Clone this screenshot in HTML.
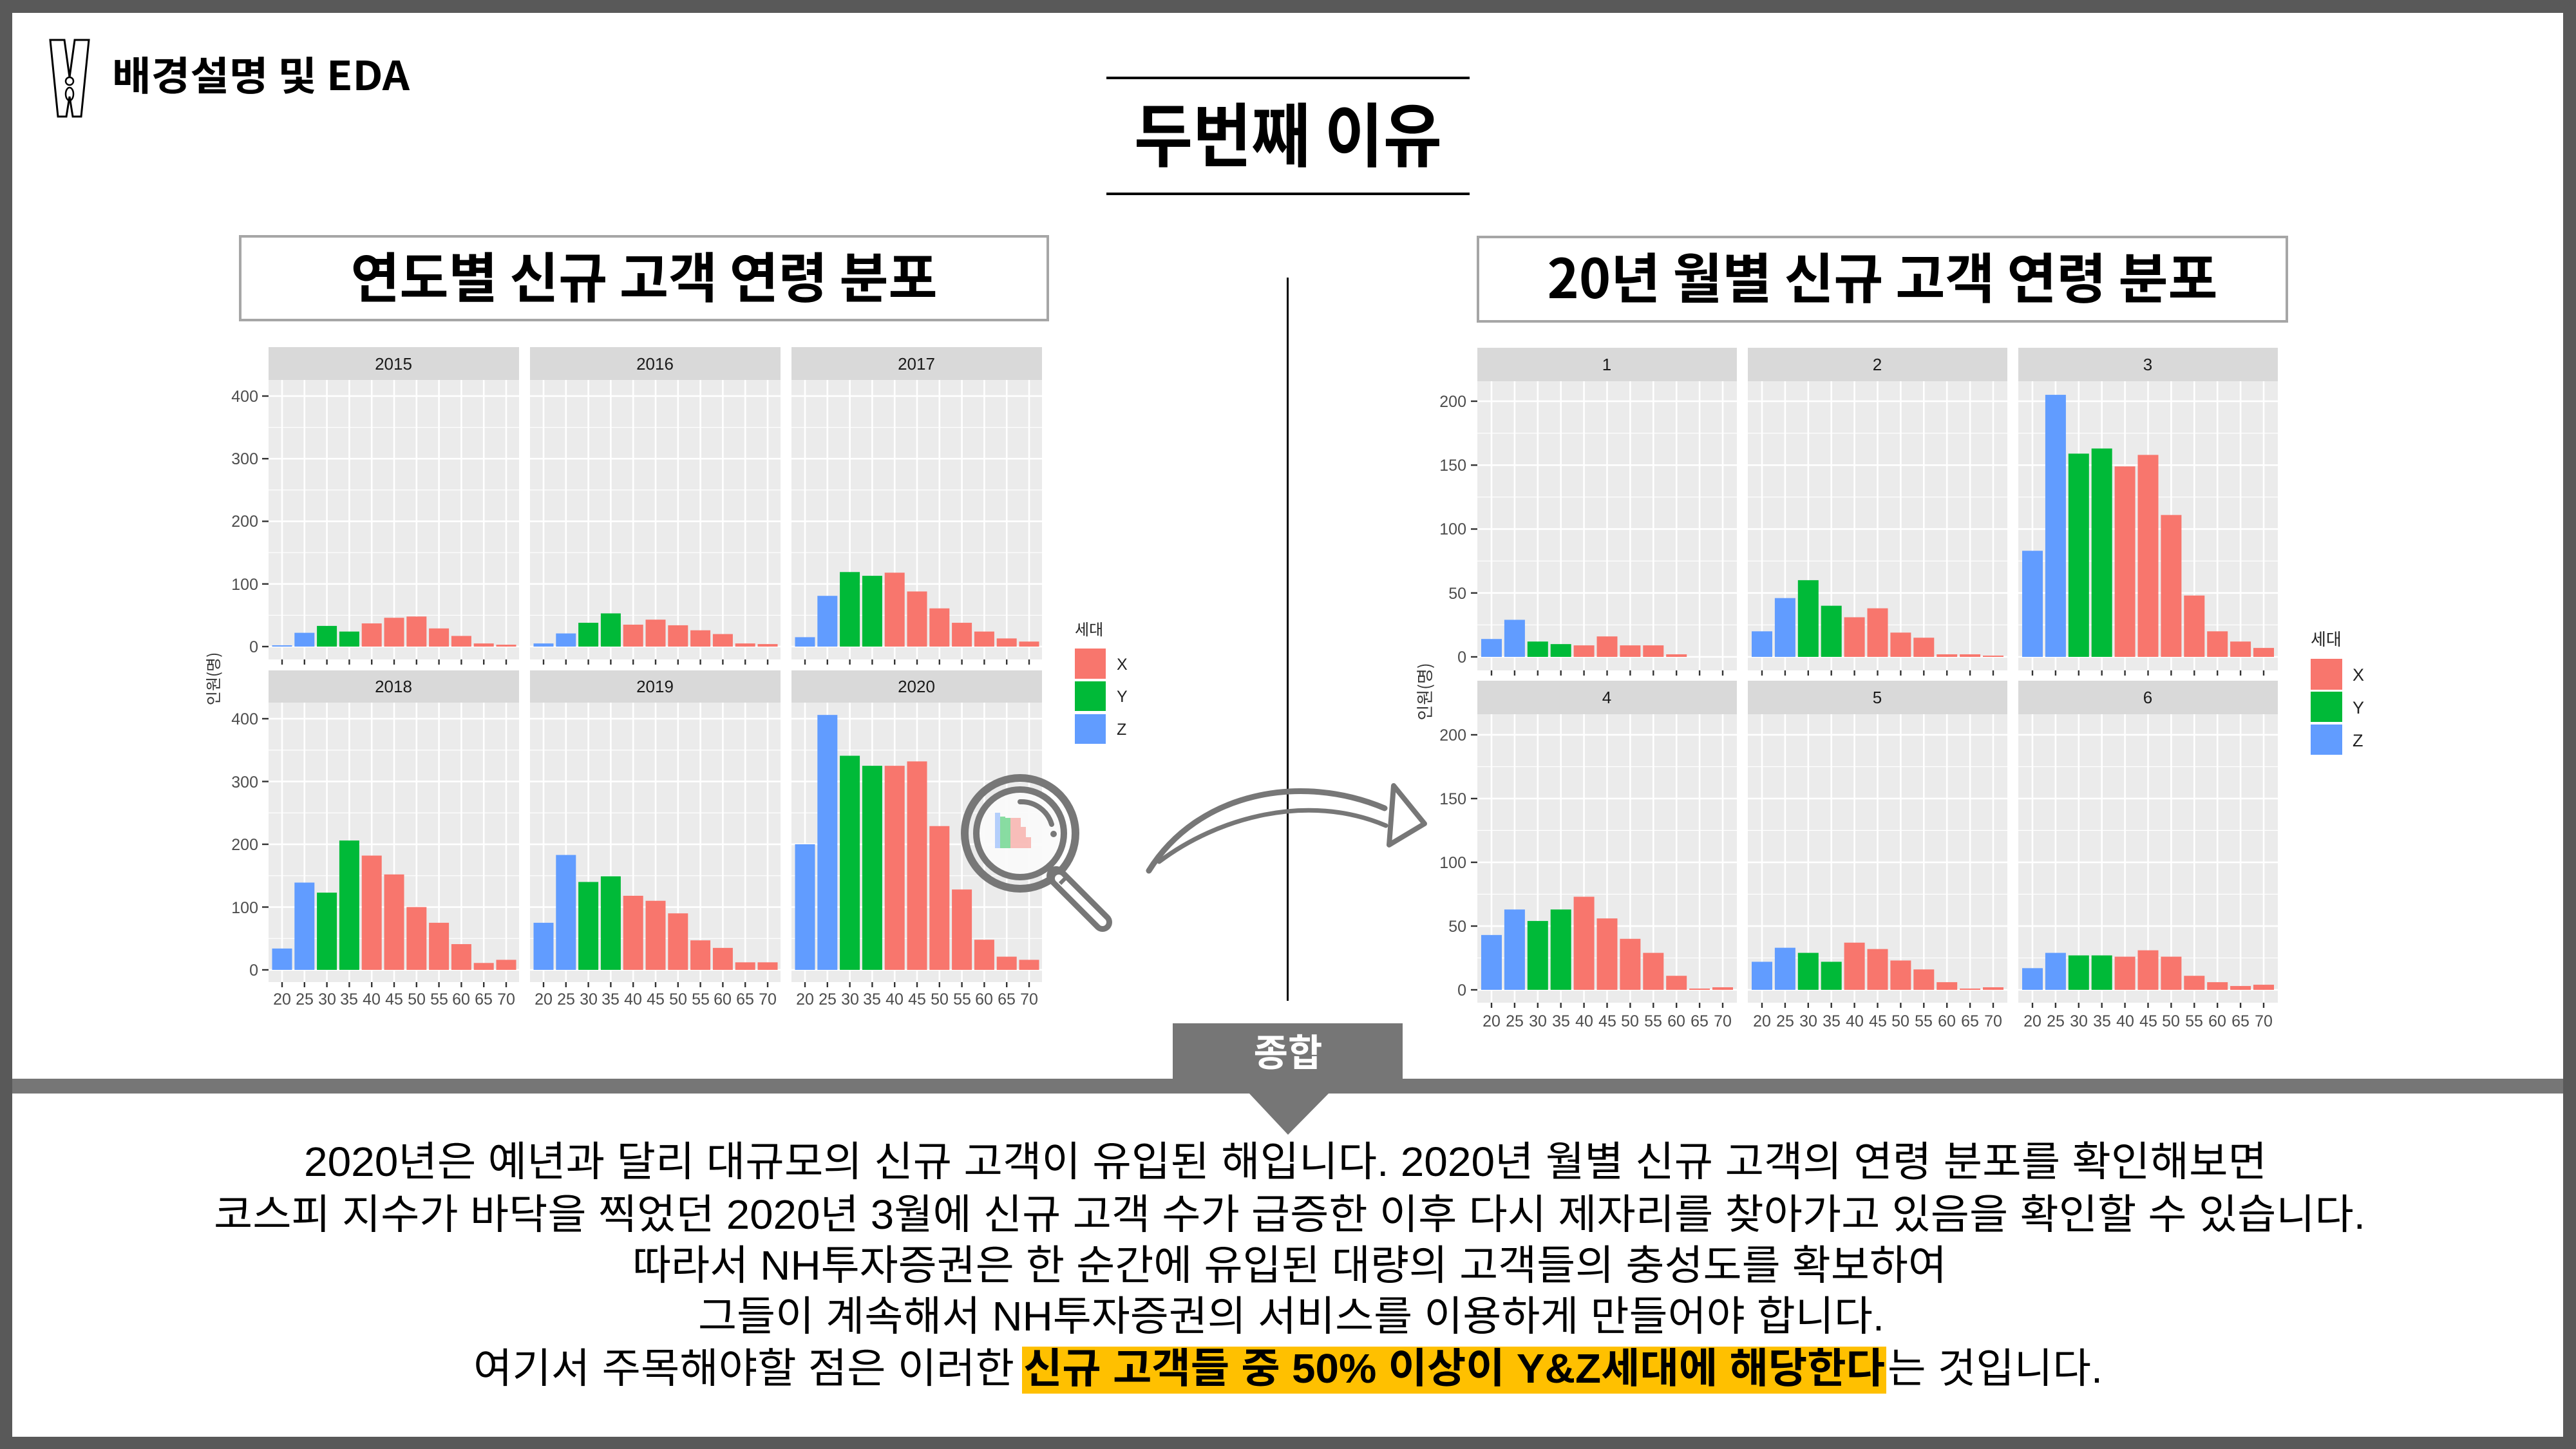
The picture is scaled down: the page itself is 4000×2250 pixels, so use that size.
<!DOCTYPE html>
<html><head><meta charset="utf-8">
<style>
html,body{margin:0;padding:0;background:#fff}
svg{display:block}
text{font-family:"Liberation Sans","Noto Sans CJK KR",sans-serif}
.k{font-family:"Noto Sans CJK KR","NanumGothic",sans-serif}
.tk{font-size:25px;fill:#4d4d4d;font-family:"Liberation Sans",sans-serif}
.st{font-size:26px;fill:#1a1a1a;font-family:"Liberation Sans",sans-serif}
</style></head><body>
<svg id="s" width="4000" height="2250" viewBox="0 0 4000 2250" xmlns="http://www.w3.org/2000/svg">
<rect x="0" y="0" width="4000" height="2250" fill="#595959"/>
<rect x="19" y="20" width="3961" height="2211" fill="#fff"/>
<path d="M78,62 L100,62 L108,120 L116,62 L138,62 L126,181 L113,181 L108,150 L103,181 L90,181 Z" fill="none" stroke="#000" stroke-width="3"/>
<circle cx="108" cy="126" r="6" fill="none" stroke="#000" stroke-width="2.5"/>
<ellipse cx="108" cy="146" rx="6" ry="10" fill="none" stroke="#000" stroke-width="2.5"/>
<text class="k" x="174" y="140" font-size="62" font-weight="bold" textLength="462" lengthAdjust="spacingAndGlyphs">배경설명 및 EDA</text>
<rect x="1718" y="119" width="564" height="4" fill="#000"/>
<rect x="1718" y="299" width="564" height="4" fill="#000"/>
<text class="k" x="2000" y="250" font-size="108" font-weight="bold" text-anchor="middle" textLength="478" lengthAdjust="spacingAndGlyphs">두번째 이유</text>
<rect x="373" y="367" width="1254" height="130" fill="#fff" stroke="#a6a6a6" stroke-width="4"/>
<text class="k" x="1000" y="462" font-size="84" font-weight="bold" text-anchor="middle" textLength="911" lengthAdjust="spacingAndGlyphs">연도별 신규 고객 연령 분포</text>
<rect x="2295" y="368" width="1256" height="131" fill="#fff" stroke="#a6a6a6" stroke-width="4"/>
<text class="k" x="2923" y="463" font-size="84" font-weight="bold" text-anchor="middle" textLength="1041" lengthAdjust="spacingAndGlyphs">20년 월별 신규 고객 연령 분포</text>
<rect x="1998" y="431" width="3" height="1123" fill="#000"/>
<g id="charts"></g>
<text class="st" x="611" y="574" text-anchor="middle">2015</text>
<text class="st" x="1017" y="574" text-anchor="middle">2016</text>
<text class="st" x="1423" y="574" text-anchor="middle">2017</text>
<text class="st" x="611" y="1075" text-anchor="middle">2018</text>
<text class="st" x="1017" y="1075" text-anchor="middle">2019</text>
<text class="st" x="1423" y="1075" text-anchor="middle">2020</text>
<text class="st" x="2495" y="575" text-anchor="middle">1</text>
<text class="st" x="2915" y="575" text-anchor="middle">2</text>
<text class="st" x="3335" y="575" text-anchor="middle">3</text>
<text class="st" x="2495" y="1092" text-anchor="middle">4</text>
<text class="st" x="2915" y="1092" text-anchor="middle">5</text>
<text class="st" x="3335" y="1092" text-anchor="middle">6</text>
<g class="tk" text-anchor="end">
<text x="401" y="1013">0</text><text x="401" y="916">100</text><text x="401" y="818">200</text><text x="401" y="721">300</text><text x="401" y="624">400</text>
<text x="401" y="1515">0</text><text x="401" y="1418">100</text><text x="401" y="1320">200</text><text x="401" y="1223">300</text><text x="401" y="1125">400</text>
</g>
<g class="tk" text-anchor="end">
<text x="2277" y="1029">0</text><text x="2277" y="930">50</text><text x="2277" y="830">100</text><text x="2277" y="731">150</text><text x="2277" y="632">200</text>
<text x="2277" y="1546">0</text><text x="2277" y="1447">50</text><text x="2277" y="1348">100</text><text x="2277" y="1249">150</text><text x="2277" y="1150">200</text>
</g>
<g class="tk" text-anchor="middle">
<text y="1560"><tspan x="438">20</tspan><tspan x="473">25</tspan><tspan x="508">30</tspan><tspan x="542">35</tspan><tspan x="577">40</tspan><tspan x="612">45</tspan><tspan x="647">50</tspan><tspan x="682">55</tspan><tspan x="716">60</tspan><tspan x="751">65</tspan><tspan x="786">70</tspan></text>
<text y="1560"><tspan x="844">20</tspan><tspan x="879">25</tspan><tspan x="914">30</tspan><tspan x="948">35</tspan><tspan x="983">40</tspan><tspan x="1018">45</tspan><tspan x="1053">50</tspan><tspan x="1088">55</tspan><tspan x="1122">60</tspan><tspan x="1157">65</tspan><tspan x="1192">70</tspan></text>
<text y="1560"><tspan x="1250">20</tspan><tspan x="1285">25</tspan><tspan x="1320">30</tspan><tspan x="1354">35</tspan><tspan x="1389">40</tspan><tspan x="1424">45</tspan><tspan x="1459">50</tspan><tspan x="1494">55</tspan><tspan x="1528">60</tspan><tspan x="1563">65</tspan><tspan x="1598">70</tspan></text>
</g>
<g class="tk" text-anchor="middle">
<text y="1594"><tspan x="2316">20</tspan><tspan x="2352">25</tspan><tspan x="2388">30</tspan><tspan x="2424">35</tspan><tspan x="2460">40</tspan><tspan x="2496">45</tspan><tspan x="2531">50</tspan><tspan x="2567">55</tspan><tspan x="2603">60</tspan><tspan x="2639">65</tspan><tspan x="2675">70</tspan></text>
<text y="1594"><tspan x="2736">20</tspan><tspan x="2772">25</tspan><tspan x="2808">30</tspan><tspan x="2844">35</tspan><tspan x="2880">40</tspan><tspan x="2916">45</tspan><tspan x="2951">50</tspan><tspan x="2987">55</tspan><tspan x="3023">60</tspan><tspan x="3059">65</tspan><tspan x="3095">70</tspan></text>
<text y="1594"><tspan x="3156">20</tspan><tspan x="3192">25</tspan><tspan x="3228">30</tspan><tspan x="3264">35</tspan><tspan x="3300">40</tspan><tspan x="3336">45</tspan><tspan x="3371">50</tspan><tspan x="3407">55</tspan><tspan x="3443">60</tspan><tspan x="3479">65</tspan><tspan x="3515">70</tspan></text>
</g>
<text class="k" x="0" y="0" font-size="24" fill="#333" text-anchor="middle" transform="translate(340,1054) rotate(-90)">인원(명)</text>
<text class="k" x="0" y="0" font-size="26" fill="#333" text-anchor="middle" transform="translate(2222,1074) rotate(-90)">인원(명)</text>
<text class="k" x="1669" y="986" font-size="24" fill="#222">세대</text>
<rect x="1669" y="1007" width="48" height="47" fill="#F8766D"/>
<rect x="1669" y="1058" width="48" height="46" fill="#00BA38"/>
<rect x="1669" y="1109" width="48" height="46" fill="#619CFF"/>
<text x="1734" y="1040" font-size="25" fill="#222">X</text>
<text x="1734" y="1090" font-size="25" fill="#222">Y</text>
<text x="1734" y="1141" font-size="25" fill="#222">Z</text>
<text class="k" x="3588" y="1002" font-size="26" fill="#222">세대</text>
<rect x="3588" y="1023" width="49" height="48" fill="#F8766D"/>
<rect x="3588" y="1074" width="49" height="47" fill="#00BA38"/>
<rect x="3588" y="1125" width="49" height="47" fill="#619CFF"/>
<text x="3653" y="1057" font-size="27" fill="#222">X</text>
<text x="3653" y="1108" font-size="27" fill="#222">Y</text>
<text x="3653" y="1159" font-size="27" fill="#222">Z</text>
<circle cx="1584" cy="1294" r="68" fill="#fafafa" opacity="0.95"/>
<g opacity="0.45">
<rect x="1545" y="1262" width="8" height="55" fill="#619CFF"/><rect x="1553" y="1268" width="8" height="49" fill="#00BA38"/><rect x="1561" y="1270" width="8" height="47" fill="#00BA38"/><rect x="1569" y="1270" width="8" height="47" fill="#F8766D"/><rect x="1577" y="1270" width="8" height="47" fill="#F8766D"/><rect x="1585" y="1284" width="8" height="33" fill="#F8766D"/><rect x="1593" y="1300" width="8" height="17" fill="#F8766D"/>
</g>
<circle cx="1584" cy="1294" r="86" fill="none" stroke="#777" stroke-width="12"/>
<circle cx="1584" cy="1294" r="68" fill="none" stroke="#777" stroke-width="10"/>
<path d="M1584,1245 A49,49 0 0 1 1633,1280" fill="none" stroke="#777" stroke-width="8" stroke-linecap="round"/>
<circle cx="1636" cy="1295" r="5" fill="#777"/>
<path d="M1640,1360 L1712,1432" stroke="#777" stroke-width="30" stroke-linecap="round"/>
<path d="M1644,1364 L1712,1432" stroke="#fff" stroke-width="12" stroke-linecap="round"/>
<path d="M1646,1372 L1658,1360" stroke="#777" stroke-width="6"/>
<path d="M1784,1352 C1860,1230 2020,1200 2150,1255" fill="none" stroke="#777" stroke-width="9" stroke-linecap="round"/>
<path d="M1800,1338 C1890,1270 2030,1230 2152,1282" fill="none" stroke="#777" stroke-width="7" stroke-linecap="round"/>
<path d="M2164,1220 L2212,1279 L2157,1312 Z" fill="none" stroke="#777" stroke-width="8" stroke-linejoin="round"/>
<rect x="19" y="1675" width="3961" height="23" fill="#767676"/>
<rect x="1821" y="1589" width="357" height="88" fill="#767676"/>
<path d="M1939,1697 L2064,1697 L2000,1762 Z" fill="#767676"/>
<text class="k" x="2000" y="1655" font-size="58" font-weight="bold" fill="#fff" text-anchor="middle">종합</text>
<g class="k" font-size="64" fill="#000">
<text x="472" y="1826" textLength="3048" lengthAdjust="spacingAndGlyphs">2020년은 예년과 달리 대규모의 신규 고객이 유입된 해입니다. 2020년 월별 신규 고객의 연령 분포를 확인해보면</text>
<text x="332" y="1908" textLength="3341" lengthAdjust="spacingAndGlyphs">코스피 지수가 바닥을 찍었던 2020년 3월에 신규 고객 수가 급증한 이후 다시 제자리를 찾아가고 있음을 확인할 수 있습니다.</text>
<text x="982" y="1987" textLength="2041" lengthAdjust="spacingAndGlyphs">따라서 NH투자증권은 한 순간에 유입된 대량의 고객들의 충성도를 확보하여</text>
<text x="1084" y="2066" textLength="1842" lengthAdjust="spacingAndGlyphs">그들이 계속해서 NH투자증권의 서비스를 이용하게 만들어야 합니다.</text>
<rect x="1587" y="2091" width="1342" height="73" fill="#FFC000"/>
<text x="735" y="2147" textLength="840" lengthAdjust="spacingAndGlyphs">여기서 주목해야할 점은 이러한</text>
<text x="1589" y="2147" font-weight="bold" textLength="1338" lengthAdjust="spacingAndGlyphs">신규 고객들 중 50% 이상이 Y&amp;Z세대에 해당한다</text>
<text x="2931" y="2147" textLength="334" lengthAdjust="spacingAndGlyphs">는 것입니다.</text>
</g>
</svg>
<script>
(function(){
var NS="http://www.w3.org/2000/svg",g=document.getElementById("charts");
function R(x,y,w,h,f){var r=document.createElementNS(NS,"rect");r.setAttribute("x",x);r.setAttribute("y",y);r.setAttribute("width",w);r.setAttribute("height",h);r.setAttribute("fill",f);g.appendChild(r);}
var C=["#619CFF","#619CFF","#00BA38","#00BA38","#F8766D","#F8766D","#F8766D","#F8766D","#F8766D","#F8766D","#F8766D"];
function panel(x0,w,st,sb,pb,zero,k,step,ymax,data,t0,sp,bw,tickX){
 R(x0,st,w,sb-st,"#D9D9D9");R(x0,sb,w,pb-sb,"#EBEBEB");
 for(var v=0;v<=ymax+step;v+=step/2){var y=zero-v*k;if(y<sb)break;var mj=(Math.round(v/step*2)%2==0);R(x0,y-(mj?1.3:0.6),w,mj?2.6:1.2,"#fff");}
 for(var i=0;i<11;i++){var x=t0+i*sp;R(x-1.3,sb,2.6,pb-sb,"#fff");}
 for(var i=0;i<11;i++){if(data[i]<=0)continue;var x=t0+i*sp,h=data[i]*k;R(x-bw/2,zero-h,bw,h,C[i]);}
 for(var i=0;i<11;i++){R(t0+i*sp-1.2,pb,2.4,8,"#333");}
 if(tickX){for(var v=0;v<=ymax;v+=step){R(x0-10,zero-v*k-1.2,10,2.4,"#333");}}
}
var L=[[2,22,33,24,37,46,48,29,17,5,3],[5,21,38,53,35,43,34,26,20,5,4],[15,81,119,113,118,88,61,38,24,13,8],
[34,139,123,206,182,152,100,75,41,11,16],[75,183,140,149,118,110,90,47,35,12,12],[200,406,341,325,325,332,229,128,48,21,16]];
var LX=[417,823,1229];
for(var i=0;i<6;i++){var r=i<3?0:1,c=i%3;
 panel(LX[c],389,r?1041:539,r?1091:590,r?1525:1024,r?1506:1004,r?0.975:0.9725,100,400,L[i],LX[c]+21,34.8,31,c==0);}
var M=[[14,29,12,10,9,16,9,9,2,0,0],[20,46,60,40,31,38,19,15,2,2,1],[83,205,159,163,149,158,111,48,20,12,7],
[43,63,54,63,73,56,40,29,11,1,2],[22,33,29,22,37,32,23,16,6,1,2],[17,29,27,27,26,31,26,11,6,3,4]];
var RX=[2294,2714,3134];
for(var i=0;i<6;i++){var r=i<3?0:1,c=i%3;
 panel(RX[c],403,r?1057:540,r?1109:592,r?1557:1041,r?1537:1020,r?1.98:1.985,50,200,M[i],RX[c]+22,35.9,32,c==0);}
})();
</script>
</body></html>
